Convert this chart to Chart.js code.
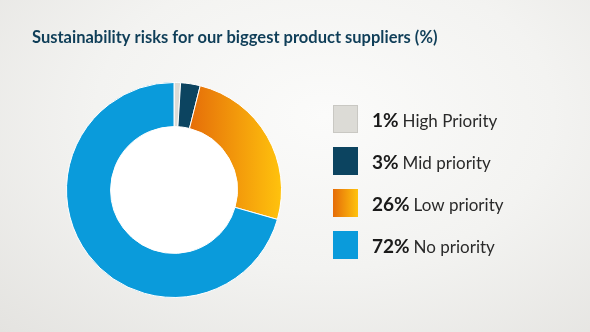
<!DOCTYPE html>
<html lang="en">
  <head>
    <meta charset="UTF-8" />
    <title>Sustainability risks</title>
    <script src="https://cdn.jsdelivr.net/npm/chart.js"></script>
    <style>
      html, body {
        margin: 0;
        padding: 0;
      }
      body {
        width: 590px;
        height: 332px;
        background: radial-gradient(ellipse at 55% 35%, #fbfbfa 0%, #f3f3f1 50%, #e4e3e0 100%);
      }
      #wrap {
        position: relative;
        width: 590px;
        height: 332px;
      }
    </style>
  </head>
  <body>
    <div id="wrap"><canvas id="chart"></canvas></div>

    <script>
      const title = "Sustainability risks for our biggest product suppliers (%)";
      const labels = ["High Priority", "Mid priority", "Low priority", "No priority"];
      const values = [1, 3, 26, 72];
      const colors = ["#dcdbd6", "#0c4460", null, "#0a9bdb"];
      const gradStops = ["#e56c09", "#ffc30d"];

      // orange slice gets a left-to-right gradient
      function sliceColor(context) {
        const i = context.dataIndex;
        if (colors[i]) return colors[i];
        const area = context.chart.chartArea;
        if (!area) return gradStops[0];
        const cx = (area.left + area.right) / 2;
        const g = context.chart.ctx.createLinearGradient(cx + 14, 0, area.right, 0);
        g.addColorStop(0, gradStops[0]);
        g.addColorStop(1, gradStops[1]);
        return g;
      }

      const decorPlugin = {
        id: "decor",
        beforeDatasetsDraw(chart) {
          const { ctx } = chart;
          const arc = chart.getDatasetMeta(0).data[0];
          if (!arc) return;
          ctx.save();
          ctx.fillStyle = "#ffffff";
          ctx.beginPath();
          ctx.arc(arc.x, arc.y, arc.innerRadius, 0, Math.PI * 2);
          ctx.fill();
          ctx.restore();
        },
        afterDraw(chart) {
          const { ctx } = chart;
          ctx.save();
          // title
          ctx.font = "bold 16.5px Lato";
          ctx.fillStyle = "#0f3e58";
          ctx.textBaseline = "alphabetic";
          ctx.fillText(title, 32, 43);

          // legend
          const boxX = 333, boxW = 25, boxH = 28, top = 105, step = 42;
          labels.forEach((lab, i) => {
            const y = top + i * step;
            if (colors[i]) {
              ctx.fillStyle = colors[i];
            } else {
              const g = ctx.createLinearGradient(boxX, 0, boxX + boxW, 0);
              g.addColorStop(0, gradStops[0]);
              g.addColorStop(1, gradStops[1]);
              ctx.fillStyle = g;
            }
            ctx.fillRect(boxX, y, boxW, boxH);
            if (i === 0) {
              ctx.strokeStyle = "#c9c8c3";
              ctx.lineWidth = 1;
              ctx.strokeRect(boxX + 0.5, y + 0.5, boxW - 1, boxH - 1);
            }
            const base = y + 22;
            const pct = values[i] + "%";
            ctx.font = "bold 19px Lato";
            ctx.fillStyle = "#1a1a1a";
            ctx.fillText(pct, 372, base);
            const w = ctx.measureText(pct).width;
            ctx.font = "17px Lato";
            ctx.fillStyle = "#2a2a2a";
            ctx.fillText(lab, 372 + w + 4, base);
          });
          ctx.restore();
        },
      };

      new Chart(document.getElementById("chart"), {
        type: "doughnut",
        data: {
          labels: labels,
          datasets: [
            {
              data: values,
              backgroundColor: sliceColor,
              borderColor: "#ffffff",
              borderWidth: 1,
              hoverOffset: 0,
            },
          ],
        },
        options: {
          responsive: true,
          maintainAspectRatio: false,
          animation: false,
          cutout: "59%",
          layout: {
            padding: { left: 66, right: 308, top: 82, bottom: 34 },
          },
          plugins: {
            legend: { display: false },
            tooltip: { enabled: false },
          },
        },
        plugins: [decorPlugin],
      });
    </script>
  </body>
</html>
